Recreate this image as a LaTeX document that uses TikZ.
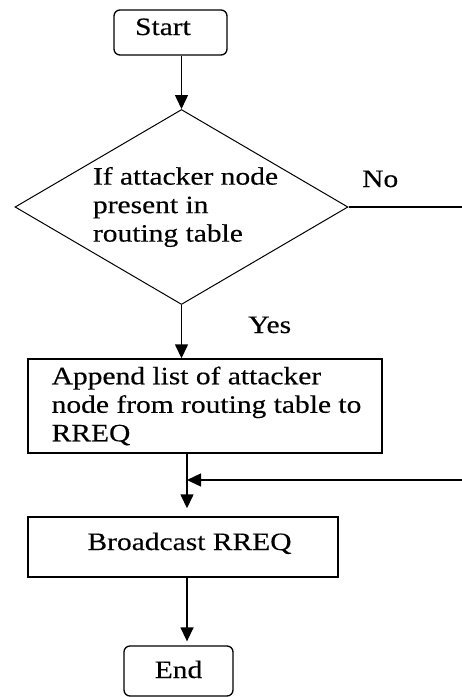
\documentclass[tikz,border=0pt]{standalone}
\usepackage{fontspec}
\setmainfont{Liberation Serif}[FakeStretch=1.18,FakeBold=0.3]
\usetikzlibrary{shapes.geometric,arrows.meta}
\begin{document}
\begin{tikzpicture}[x=1pt,y=-1pt,
  every node/.style={font=\fontsize{25}{28.5}\selectfont, inner sep=0pt},
  box/.style={draw, line width=1.4pt, rectangle},
  term/.style={draw, line width=1.3pt, rounded corners=6pt},
  dec/.style={draw, diamond, line width=1pt, aspect=1.7, minimum width=333pt, minimum height=195pt, align=left},
  conn/.style={line width=1.4pt},
  arr/.style={conn,-{Triangle[length=14pt,width=13pt]}},
  lbl/.style={anchor=base west}]
\useasboundingbox (0,0) rectangle (462,697);

\node[term, minimum width=113pt, minimum height=45pt, text height=21pt, text depth=16pt] (start) at (170.5,32.5) {Start\hspace*{15pt}};
\node[dec] (q) at (181.5,207) {\hspace*{8pt}If attacker node\\\hspace*{8pt}present in\\\hspace*{8pt}routing table};
\node[box, minimum width=354pt, minimum height=94pt, align=left] (app) at (205,406) {\hspace*{3pt}Append list of attacker\\\hspace*{3pt}node from routing table to\\\hspace*{3pt}RREQ};
\node[box, minimum width=310pt, minimum height=60pt, text height=29pt, text depth=23pt] (bc) at (183,547) {\hspace*{13pt}Broadcast RREQ};
\node[term, minimum width=109pt, minimum height=50pt, text height=28pt, text depth=14pt] (end) at (178.5,671) {End};

\node[lbl] (no) at (362,187) {No};
\node[lbl] (yes) at (248,333) {Yes};

\coordinate (merge) at (187,480);
\coordinate (noend) at (462,207);
\coordinate (backin) at (462,480);

\draw[arr] (start.south -| q.north) -- (q.north);
\draw[arr] (q.south) -- (q.south |- app.north);
\draw[conn] (q.east) -- (noend);
\draw[arr, shorten >=8pt] (app.south -| merge) -- (bc.north -| merge);
\draw[arr] (backin) -- (merge);
\draw[arr, shorten >=4pt] (bc.south -| merge) -- (end.north -| merge);
\end{tikzpicture}
\end{document}
